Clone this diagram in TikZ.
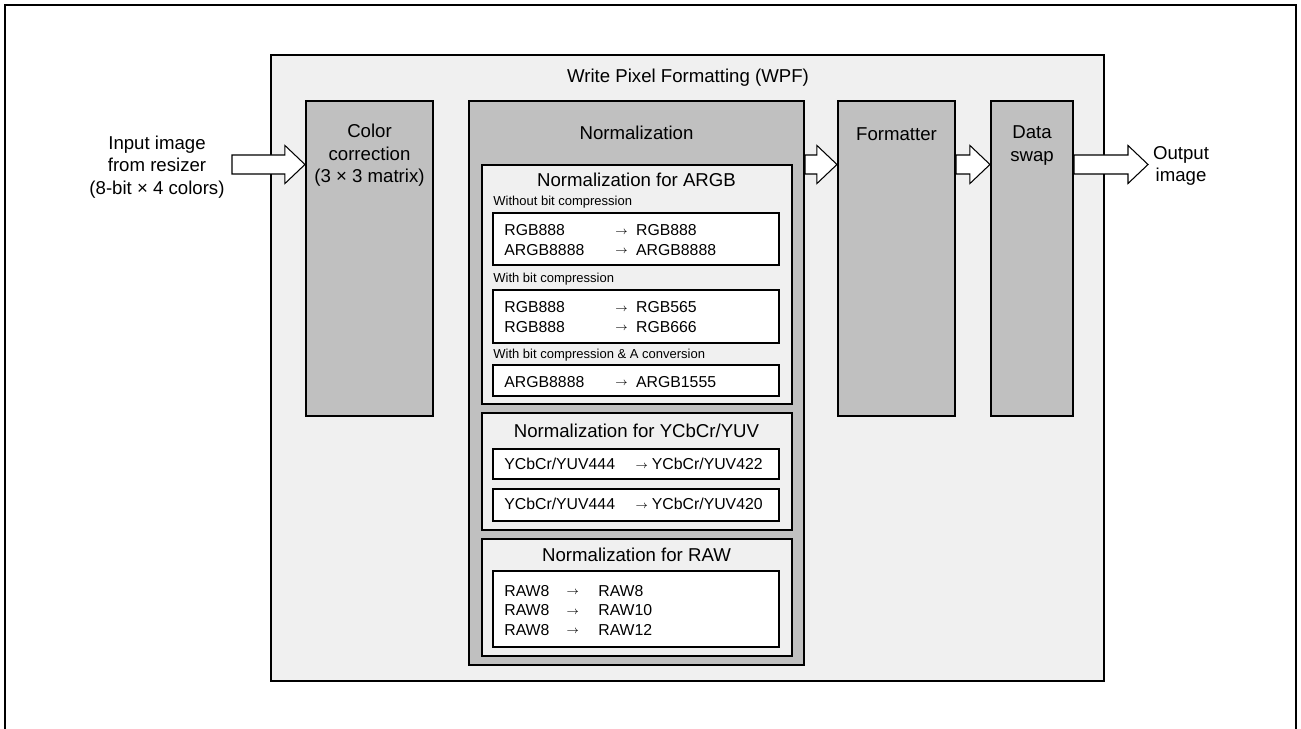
\documentclass[tikz,border=0pt]{standalone}
\usepackage{fontspec}
\setmainfont{Liberation Sans}
\usetikzlibrary{calc,fit}

\definecolor{panelgrey}{HTML}{F0F0F0}
\definecolor{blockgrey}{HTML}{C0C0C0}

\newcommand{\convarrow}{\raisebox{0.1em}{$\scriptstyle\rightarrow$}}
\newcommand{\convtab}[3]{\begin{tabular}{@{}p{#1}@{}p{#2}@{}l@{}}#3\end{tabular}}
% hollow block arrow: #1 start of shaft, #2 tip
\newcommand{\hollowarrow}[2]{%
  \draw[flowarrow] ($(#1)+(0,-9.5)$) -- ($(#2)+(-20,-9.5)$) -- ($(#2)+(-20,-19)$)
    -- (#2) -- ($(#2)+(-20,19)$) -- ($(#2)+(-20,9.5)$) -- ($(#1)+(0,9.5)$) -- cycle;}

\begin{document}
\begin{tikzpicture}[x=0.02cm,y=-0.02cm,
  panel/.style={draw,line width=1.2pt,fill=panelgrey,inner sep=0pt},
  block/.style={draw,line width=1.2pt,fill=blockgrey,inner sep=0pt},
  convbox/.style={draw,line width=1.2pt,fill=white,inner sep=0pt},
  flowarrow/.style={draw,line width=0.6pt,fill=white},
  title/.style={font=\fontsize{10.6}{12.8}\selectfont,align=center,inner sep=0pt},
  caption/.style={font=\fontsize{7.4}{9}\selectfont,anchor=west,inner sep=0pt},
  rows/.style={font=\fontsize{9}{11}\selectfont,anchor=west,inner sep=0pt}]
  \useasboundingbox (0,0) rectangle (1301,729);
  % page frame, open at the bottom
  \draw[line width=1.2pt] (5,729) -- (5,5) -- (1296,5) -- (1296,729);

  % WPF panel
  \node[panel,fit={(271,55) (1104,681)}] (wpf) {};
  \node[title] (wpfT) at (688,78) {Write Pixel Formatting (WPF)};

  % processing blocks
  \node[block,fit={(306,101) (433,416)}] (cc) {};
  \node[block,fit={(469,101) (804,665)}] (norm) {};
  \node[block,fit={(838,101) (955,416)}] (fmt) {};
  \node[block,fit={(991,101) (1073,416)}] (swap) {};
  \node[title] (ccT) at (369.5,155.5) {Color\\correction\\(3 × 3 matrix)};
  \node[title] (normT) at (636.5,133) {Normalization};
  \node[title] (fmtT) at (896.5,134) {Formatter};
  \node[title] (swapT) at (1032,145.5) {Data\\swap};

  % ARGB
  \node[panel,fit={(482,165) (792,404)}] (argb) {};
  \node[title] (argbT) at (636.5,180) {Normalization for ARGB};
  \node[caption] (argbC1) at (493,202) {Without bit compression};
  \node[convbox,fit={(493,213) (779,265)}] (argbB1) {};
  \node[rows] (argbR1) at (504,241.5) {\convtab{63pt}{12pt}{RGB888 & \convarrow & RGB888\\ ARGB8888 & \convarrow & ARGB8888}};
  \node[caption] (argbC2) at (493,279) {With bit compression};
  \node[convbox,fit={(493,290) (779,343)}] (argbB2) {};
  \node[rows] (argbR2) at (504,318.5) {\convtab{63pt}{12pt}{RGB888 & \convarrow & RGB565\\ RGB888 & \convarrow & RGB666}};
  \node[caption] (argbC3) at (493,355) {With bit compression \& A conversion};
  \node[convbox,fit={(493,365) (779,396)}] (argbB3) {};
  \node[rows] (argbR3) at (504,383.5) {\convtab{63pt}{12pt}{ARGB8888 & \convarrow & ARGB1555}};

  % YCbCr/YUV
  \node[panel,fit={(482,413) (792,530)}] (yuv) {};
  \node[title] (yuvT) at (636.5,431) {Normalization for YCbCr/YUV};
  \node[convbox,fit={(493,449) (779,479)}] (yuvB1) {};
  \node[rows] (yuvR1) at (504,466) {\convtab{74.5pt}{9.5pt}{YCbCr/YUV444 & \convarrow & YCbCr/YUV422}};
  \node[convbox,fit={(493,489) (779,521)}] (yuvB2) {};
  \node[rows] (yuvR2) at (504,506) {\convtab{74.5pt}{9.5pt}{YCbCr/YUV444 & \convarrow & YCbCr/YUV420}};

  % RAW
  \node[panel,fit={(482,539) (792,656)}] (raw) {};
  \node[title] (rawT) at (636.5,555) {Normalization for RAW};
  \node[convbox,fit={(493,571) (779,647)}] (rawB) {};
  \node[rows] (rawR) at (504,612) {\convtab{35.3pt}{18.2pt}{RAW8 & \convarrow & RAW8\\ RAW8 & \convarrow & RAW10\\ RAW8 & \convarrow & RAW12}};

  % data flow
  \coordinate (flow) at (0,164.5);
  \coordinate (inStart) at (232,164.5);
  \coordinate (outTip) at (1148,164.5);
  \coordinate (ccIn) at (cc.west |- flow);
  \coordinate (normOut) at (norm.east |- flow);
  \coordinate (fmtIn) at (fmt.west |- flow);
  \coordinate (fmtOut) at (fmt.east |- flow);
  \coordinate (swapIn) at (swap.west |- flow);
  \coordinate (swapOut) at (swap.east |- flow);
  \hollowarrow{inStart}{ccIn}
  \hollowarrow{normOut}{fmtIn}
  \hollowarrow{fmtOut}{swapIn}
  \hollowarrow{swapOut}{outTip}
  \node[title] (inL) at (157,167) {Input image\\from resizer\\(8-bit × 4 colors)};
  \node[title] (outL) at (1181,166) {Output\\image};
\end{tikzpicture}
\end{document}
